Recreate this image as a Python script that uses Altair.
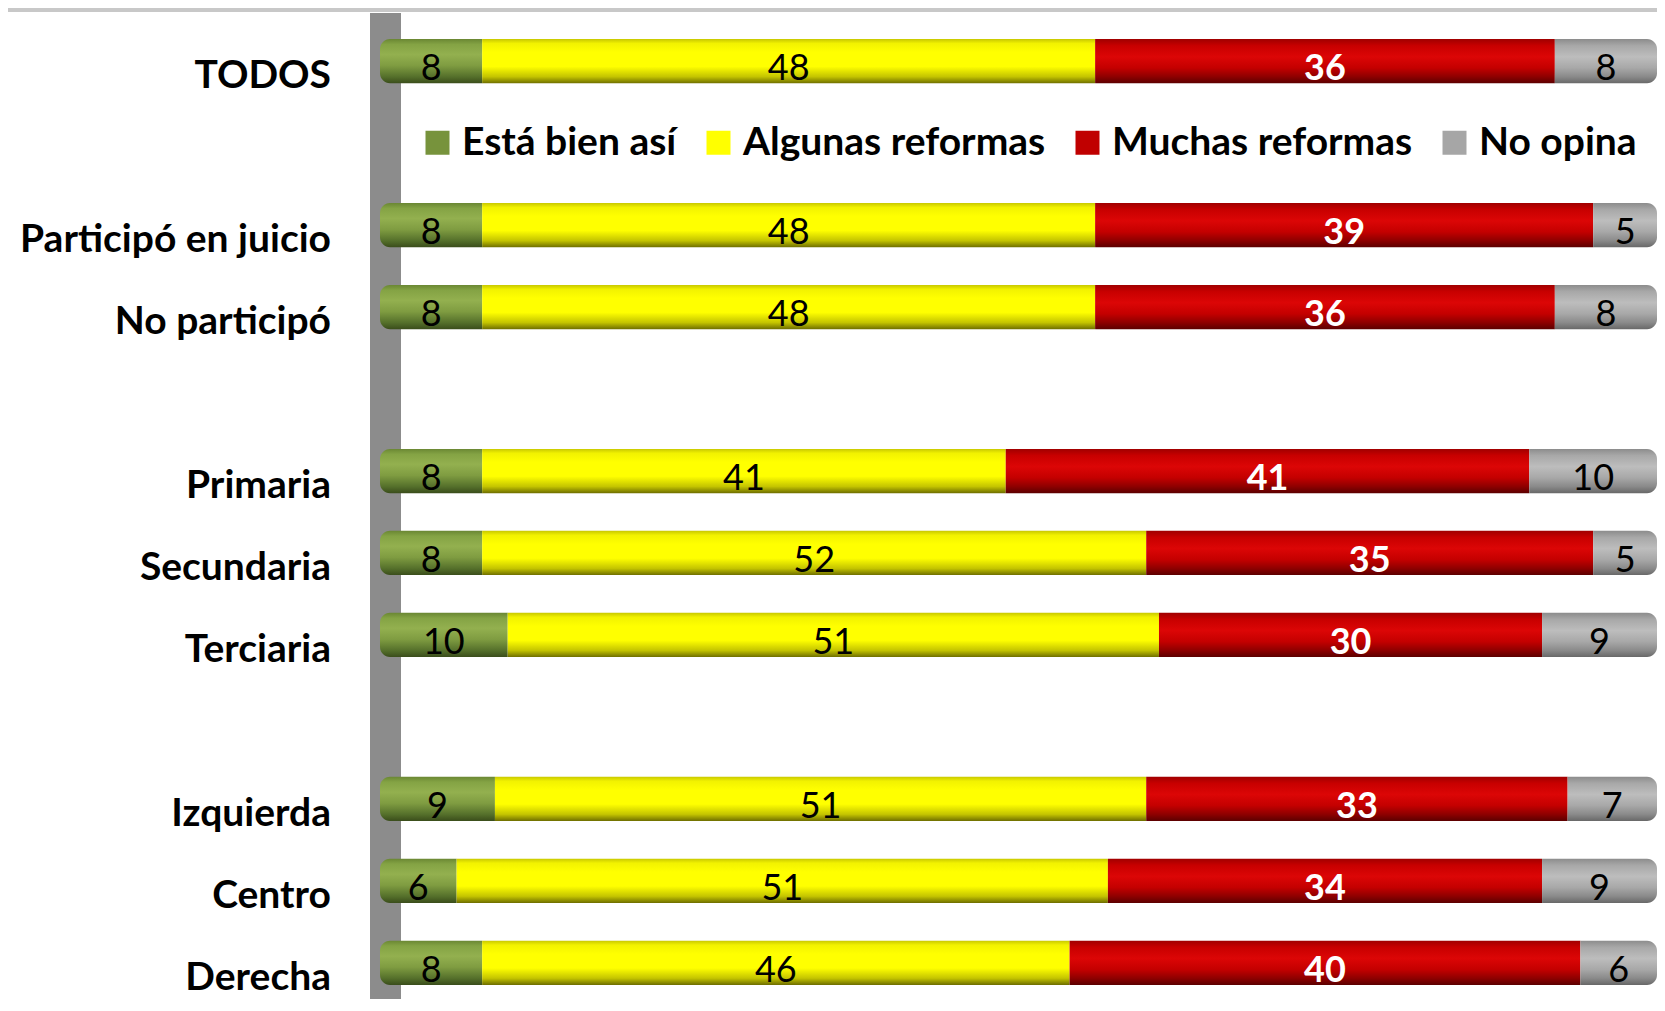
import altair as alt
import pandas as pd

# Row order (blank rows leave the gaps seen in the reference)
rows = ["TODOS", " ", "Participó en juicio", "No participó", "  ",
        "Primaria", "Secundaria", "Terciaria", "   ",
        "Izquierda", "Centro", "Derecha"]
groups = ["TODOS", "Participó en juicio", "No participó",
          "Primaria", "Secundaria", "Terciaria",
          "Izquierda", "Centro", "Derecha"]
categories = ["Está bien así", "Algunas reformas", "Muchas reformas", "No opina"]
esta_bien = [8, 8, 8, 8, 8, 10, 9, 6, 8]
algunas = [48, 48, 48, 41, 52, 51, 51, 51, 46]
muchas = [36, 39, 36, 41, 35, 30, 33, 34, 40]
no_opina = [8, 5, 8, 10, 5, 9, 7, 9, 6]
legend_colors = ["#77933C", "#FFFF00", "#C00000", "#A6A6A6"]

series = [esta_bien, algunas, muchas, no_opina]
records = []
for ci, (cat, vals) in enumerate(zip(categories, series)):
    for g, v in zip(groups, vals):
        records.append({"group": g, "category": cat, "value": v, "order": ci})
df = pd.DataFrame(records)

FONT = "Lato"
LABEL_SIZE = 39
W, H = 1277, 954

def grad(stops):
    return alt.Gradient(
        gradient="linear", x1=0, x2=0, y1=0, y2=1,
        stops=[alt.GradientStop(offset=o, color=c) for o, c in stops],
    )

gradients = [
    grad([(0, "#6a8733"), (0.12, "#84a344"), (0.35, "#93b04f"), (0.6, "#7f9c41"), (0.85, "#55702b"), (1, "#3a4d1b")]),
    grad([(0, "#c8c800"), (0.1, "#f2f200"), (0.3, "#ffff00"), (0.62, "#ffff00"), (0.85, "#c4c400"), (1, "#6e6e00")]),
    grad([(0, "#a00000"), (0.15, "#c80000"), (0.4, "#dc0606"), (0.65, "#c40000"), (0.85, "#8e0000"), (1, "#5c0000")]),
    grad([(0, "#8c8c8c"), (0.15, "#a8a8a8"), (0.4, "#bdbdbd"), (0.65, "#a8a8a8"), (0.85, "#8a8a8a"), (1, "#686868")]),
]

y_enc = alt.Y(
    "group:N",
    title=None,
    scale=alt.Scale(domain=rows, paddingInner=0.46, paddingOuter=0.05),
    axis=alt.Axis(
        domain=False, ticks=False, tickSize=0, grid=False, offset=-5.5,
        labelFont=FONT, labelFontSize=LABEL_SIZE, labelFontWeight="bold",
        labelColor="black", labelPadding=55, labelLimit=0,
        labelBaseline="alphabetic", labelOffset=27, labelAlign="right",
        zindex=0,
    ),
)
x_scale = alt.Scale(domain=[0, 100], nice=False, zero=True)

base = alt.Chart(df).transform_stack(
    stack="value", groupby=["group"], as_=["x0", "x1"],
    sort=[alt.SortField("order", order="ascending")],
).transform_calculate(mid="(datum.x0 + datum.x1) / 2")

bars = []
for i, cat in enumerate(categories):
    extra = {}
    if i == 0:
        extra = dict(cornerRadiusTopLeft=10, cornerRadiusBottomLeft=10)
    if i == len(categories) - 1:
        extra = dict(cornerRadiusTopRight=10, cornerRadiusBottomRight=10)
    bars.append(
        base.transform_filter(alt.datum.category == cat)
        .mark_bar(fill=gradients[i], **extra)
        .encode(
            y=y_enc,
            x=alt.X("x0:Q", scale=x_scale, axis=None),
            x2="x1:Q",
        )
    )

text_dark = base.transform_filter(alt.datum.category != "Muchas reformas").mark_text(
    font=FONT, fontSize=36, baseline="alphabetic", dy=19, color="black"
).encode(y=y_enc, x=alt.X("mid:Q", scale=x_scale, axis=None), text="value:Q")

text_light = base.transform_filter(alt.datum.category == "Muchas reformas").mark_text(
    font=FONT, fontSize=36, fontWeight="bold", baseline="alphabetic", dy=19, color="white"
).encode(y=y_enc, x=alt.X("mid:Q", scale=x_scale, axis=None), text="value:Q")

legend_layer = base.mark_square(size=0).encode(
    y=y_enc,
    x=alt.X("mid:Q", scale=x_scale, axis=None),
    color=alt.Color(
        "category:N",
        scale=alt.Scale(domain=categories, range=legend_colors),
        legend=alt.Legend(
            orient="none", legendX=38, legendY=88, direction="horizontal",
            title=None, symbolType="square", symbolSize=576, symbolStrokeWidth=0,
            symbolOpacity=1,
            labelFont=FONT, labelFontSize=LABEL_SIZE, labelFontWeight="bold",
            labelColor="black", columnPadding=22, labelOffset=5, labelLimit=0,
        ),
    ),
)

deco = alt.Chart(pd.DataFrame({"a": [0]}))
top_line = deco.mark_rule(color="#c8c8c8", strokeWidth=4).encode(
    x=alt.value(-380), x2=alt.value(W + 10), y=alt.value(-25)
)
wall = deco.mark_rule(color="#8c8c8c", strokeWidth=31, strokeCap="butt").encode(
    x=alt.value(5.5), y=alt.value(-22), y2=alt.value(H + 40)
)

chart = alt.layer(top_line, wall, *bars, text_dark, text_light, legend_layer).properties(
    width=W, height=H,
    autosize=alt.AutoSizeParams(type="none"),
    padding={"left": 372, "top": 27, "right": 0, "bottom": 10},
    background="white",
).configure_view(stroke=None)

chart.save("out.html", embed_options={"renderer": "svg", "actions": False})
